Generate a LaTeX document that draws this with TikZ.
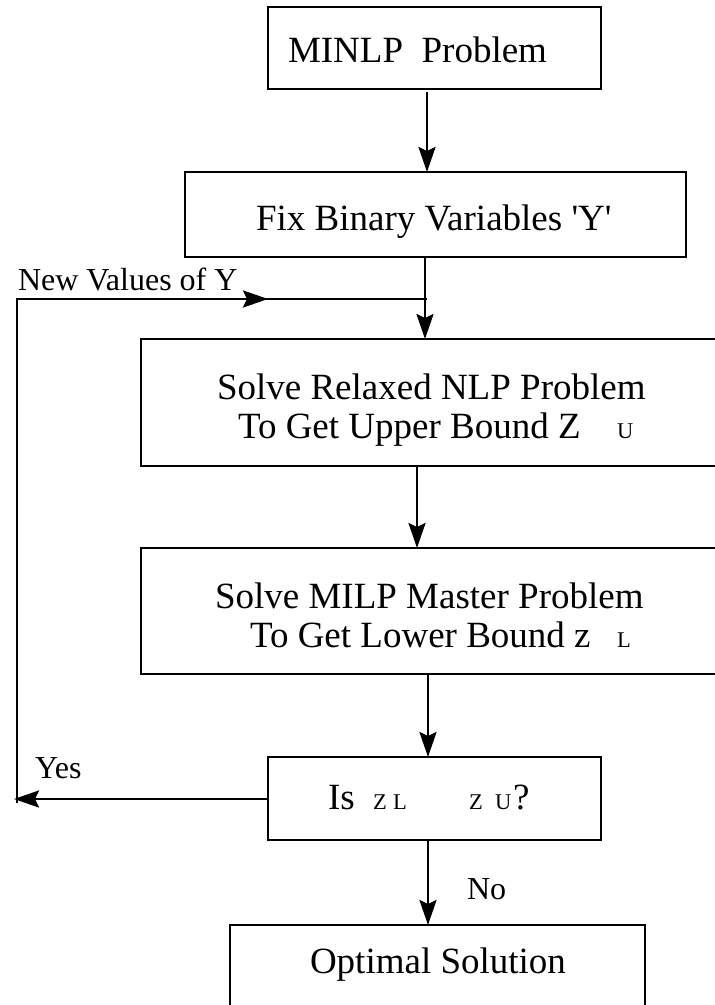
\documentclass[tikz,border=0pt]{standalone}
\usepackage{fontspec}
\setmainfont{Liberation Serif}
\usetikzlibrary{arrows.meta}
\newcommand\fsbox{\fontsize{37}{40}\selectfont}
\newcommand\fslab{\fontsize{32}{35}\selectfont}
\newcommand\fssub{\fontsize{22.5}{24}\selectfont}
\tikzset{
  box/.style={draw, line width=2.9pt, inner sep=0pt, outer sep=0pt},
  txt/.style={anchor=base west, inner sep=0pt, outer sep=0pt, font=\fsbox},
  lab/.style={anchor=base west, inner sep=0pt, outer sep=0pt, font=\fslab},
  sub/.style={anchor=base west, inner sep=0pt, outer sep=0pt, font=\fssub},
  conn/.style={line width=2.5pt},
  arr/.style={line width=2.5pt, -{Stealth[length=25pt,width=17pt,inset=4pt]}}
}
\begin{document}
\begin{tikzpicture}[x=1pt, y=-1pt]
\clip (0,0) rectangle (715,1005);
\fill[white] (0,0) rectangle (715,1005);

% boxes
\node[box, minimum width=333pt, minimum height=82pt]  (b1) at (434.5,48) {};
\node[box, minimum width=501pt, minimum height=85pt]  (b2) at (435.5,214.5) {};
\node[box, minimum width=589pt, minimum height=127pt] (b3) at (435.5,402.5) {};
\node[box, minimum width=589pt, minimum height=126pt] (b4) at (435.5,611) {};
\node[box, minimum width=333pt, minimum height=83pt]  (b5) at (434.5,798.5) {};
\node[box, minimum width=415pt, minimum height=115pt] (b6) at (437.5,982.5) {};

% box texts
\node[txt] (t1) at (288,62) {MINLP~ Problem};
\node[txt] (t2) at (256,230) {Fix Binary Variables \textquotesingle Y\textquotesingle};
\node[txt] (t3a) at (217,399) {Solve Relaxed NLP Problem};
\node[txt] (t3b) at (238,438) {To Get Upper Bound Z};
\node[sub] (t3c) at (617,438) {U};
\node[txt] (t4a) at (215,608) {Solve MILP Master Problem};
\node[txt] (t4b) at (250,647) {To Get Lower Bound z};
\node[sub] (t4c) at (617,647) {L};
\node[txt] (t5a) at (328,809) {Is};
\node[sub] (t5b) at (373,809) {Z};
\node[sub] (t5c) at (393,809) {L};
\node[sub] (t5d) at (469,809) {Z};
\node[sub] (t5e) at (495,809) {U};
\node[txt] (t5f) at (513,809) {?};
\node[txt] (t6) at (310,973) {Optimal Solution};

% labels
\node[lab] (lnew) at (18,290) {New Values of Y};
\node[lab] (lyes) at (35,778) {Yes};
\node[lab] (lno)  at (467,899) {No};

% connector columns
\coordinate (c1) at (427,0);
\coordinate (c2) at (425,0);
\coordinate (c3) at (417,0);
\coordinate (c4) at (428,0);
\coordinate (c5) at (428,0);
\coordinate (join) at (427,299);
\coordinate (loopT) at (17,299);
\coordinate (loopB) at (17,799);
\coordinate (yesTip) at (14,799);
\coordinate (midTip) at (268,299);

% main flow
\draw[arr] ([yshift=-3pt]b1.south -| c1) -- (b2.north -| c1);
\draw[arr] (b2.south -| c2) -- (b3.north -| c2);
\draw[arr] (b3.south -| c3) -- (b4.north -| c3);
\draw[arr] (b4.south -| c4) -- (b5.north -| c4);
\draw[arr] (b5.south -| c5) -- (b6.north -| c5);

% feedback loop
\draw[arr] (b5.west |- yesTip) -- (yesTip);
\draw[conn] ([yshift=-4pt]loopB) -- (loopT) -- (midTip);
\draw[arr] (loopT) -- (midTip);
\draw[conn] (midTip) -- (join);
\end{tikzpicture}
\end{document}
